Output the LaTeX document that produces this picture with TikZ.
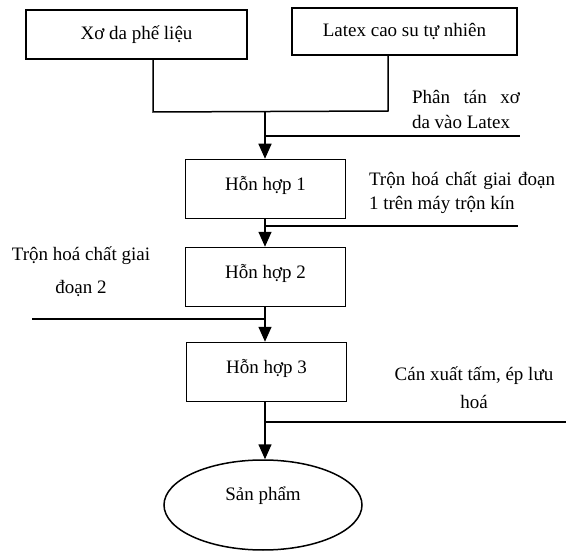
\documentclass[tikz,border=0pt]{standalone}
\usepackage{fontspec}
\setmainfont{Liberation Serif}
\usetikzlibrary{arrows.meta,shapes.geometric}
\begin{document}
\begin{tikzpicture}[x=1pt,y=-1pt,
  every node/.style={font=\fontsize{19}{23}\selectfont},
  box/.style={draw,line width=1.5pt,inner sep=0pt},
  mix/.style={box,minimum width=160pt,minimum height=59pt,text height=18pt,text depth=16pt},
  prod/.style={draw,ellipse,line width=1.5pt,inner sep=0pt,minimum width=198pt,minimum height=90pt,text height=18pt,text depth=28pt},
  ln/.style={line width=1.5pt},
  arr/.style={line width=1.5pt,-{Triangle[length=15pt,width=13pt]}},
  note/.style={inner sep=0pt}]
\useasboundingbox (0,0) rectangle (566,551);
% boxes
\node[box,minimum width=221pt,minimum height=49pt] (b1) at (136.5,34.5) {Xơ da phế liệu};
\node[box,minimum width=225pt,minimum height=47pt] (b2) at (404.5,31.5) {Latex cao su tự nhiên};
\node[mix] (h1) at (265.5,189) {Hỗn hợp 1};
\node[mix] (h2) at (265.5,277) {Hỗn hợp 2};
\node[mix] (h3) at (266.5,372) {Hỗn hợp 3};
\node[prod] (p) at (263,505) {Sản phẩm};
% joints
\coordinate (j1) at (153,112);
\coordinate (j2) at (388,111);
\coordinate (jm) at (265,111.5);
\draw[ln] (b1.south -| j1) -- (j1) -- (j2) -- (b2.south -| j2);
\draw[arr] (jm) -- (jm |- h1.north);
\draw[arr] (h1.south -| jm) -- (jm |- h2.north);
\draw[arr] (h2.south -| jm) -- (jm |- h3.north);
\draw[arr] (h3.south -| jm) -- (jm |- p.north);
% side lines
\coordinate (e1) at (520,136);
\coordinate (e2) at (518,226);
\coordinate (e3) at (32,319);
\coordinate (e4) at (566,422);
\draw[ln] (jm |- e1) -- (e1);
\draw[ln] (jm |- e2) -- (e2);
\draw[ln] (e3) -- (jm |- e3);
\draw[ln] (jm |- e4) -- (e4);
% notes
\node[note,align=left,font=\fontsize{19}{25}\selectfont] (n1) at (466,109)
  {\makebox[108pt][s]{Phân tán xơ}\\da vào Latex};
\node[note,align=left,font=\fontsize{19}{24}\selectfont] (n2) at (462,193)
  {\makebox[186pt][s]{Trộn hoá chất giai đoạn}\\1 trên máy trộn kín};
\node[note,align=center,font=\fontsize{19}{33}\selectfont] (n3) at (81,272)
  {Trộn hoá chất giai\\đoạn 2};
\node[note,align=center,font=\fontsize{19}{28}\selectfont] (n4) at (474,387.5)
  {Cán xuất tấm, ép lưu\\hoá};
\end{tikzpicture}
\end{document}
